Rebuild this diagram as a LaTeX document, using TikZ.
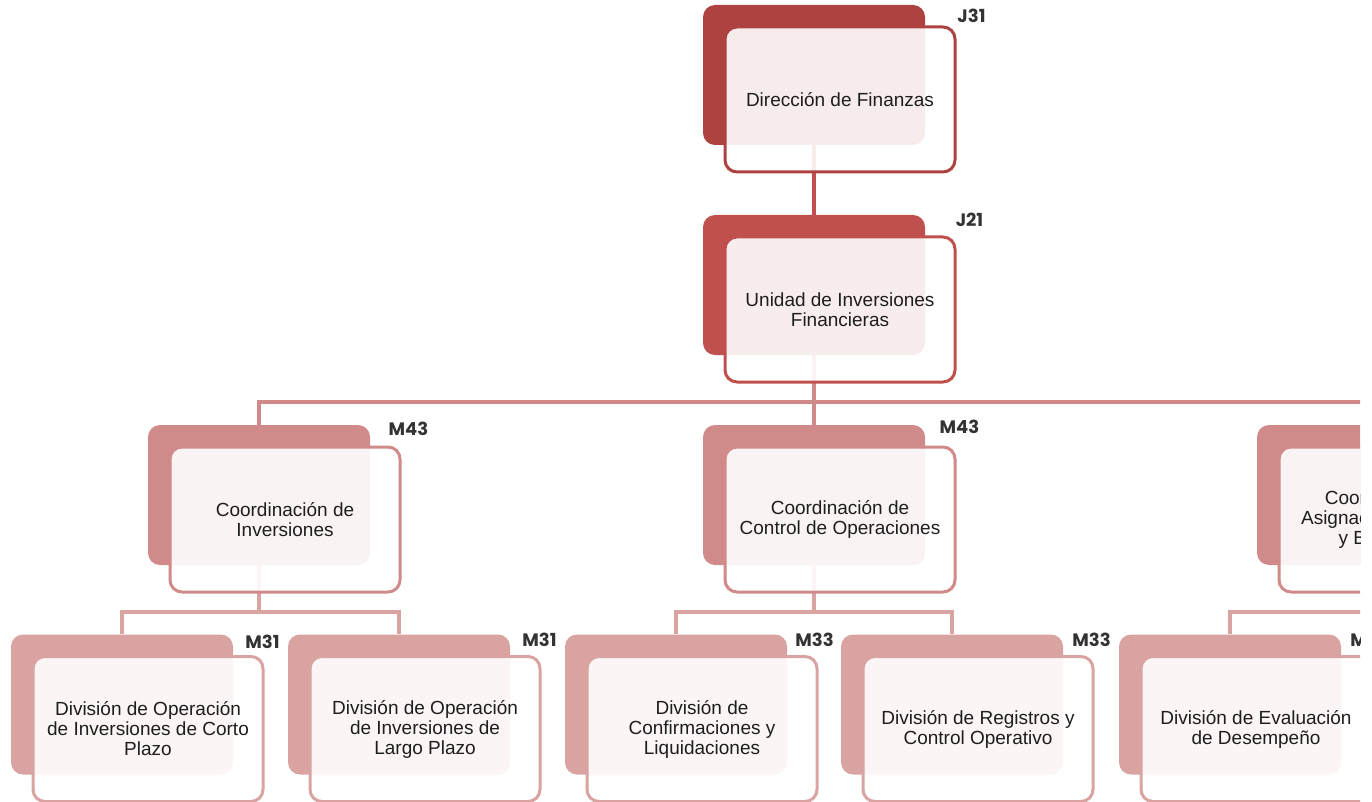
\documentclass[tikz,border=0pt]{standalone}
\usepackage{fontspec}
\setmainfont{Liberation Sans}
\newfontfamily\codefont{Poppins}
\usepackage{tikz}
\usetikzlibrary{positioning, calc, backgrounds}
\usepackage{xcolor}
\definecolor{finred}{RGB}{173,66,64}
\definecolor{unitred}{RGB}{192,80,77}
\definecolor{coordrose}{RGB}{208,138,137}
\definecolor{divrose}{RGB}{217,163,162}
\definecolor{codegray}{RGB}{51,51,51}
\definecolor{textdark}{RGB}{30,30,30}

\begin{document}
\begin{tikzpicture}[
    x=1pt, y=-1pt,
    back/.style={rectangle, rounded corners=12pt, minimum width=222pt, minimum height=140pt, inner sep=0pt},
    front/.style={rectangle, rounded corners=12pt, minimum width=230pt, minimum height=145pt, line width=3pt, fill=white, fill opacity=0.9, text opacity=1, draw opacity=1, align=center, font=\fontsize{19}{20}\selectfont, text=textdark},
    code/.style={font=\codefont\bfseries\fontsize{18}{18}\selectfont, text=codegray},
    link/.style={line width=4.5pt},
]
    \useasboundingbox (0,0) rectangle (1372,802);
    \clip (0,0) rectangle (1360,802);

    % Back plates
    \node[back, fill=finred] (jb) at (814,75) {};
    \node[back, fill=unitred] (ub) at (814,285) {};
    \node[back, fill=coordrose] (cab) at (259,495) {};
    \node[back, fill=coordrose] (cbb) at (814,495) {};
    \node[back, fill=coordrose] (ccb) at (1368,495) {};
    \node[back, fill=divrose] (dab) at (122,704.5) {};
    \node[back, fill=divrose] (dbb) at (399,704.5) {};
    \node[back, fill=divrose] (dcb) at (676,704.5) {};
    \node[back, fill=divrose] (ddb) at (952,704.5) {};
    \node[back, fill=divrose] (deb) at (1230,704.5) {};

    % Connectors (behind the plates)
    \coordinate (bar2) at (0,402);
    \coordinate (bar3) at (0,612);
    \coordinate (edge3) at (1400,612);
    \begin{scope}[on background layer]
        \clip (0,0) rectangle (1360,802);
        \draw[link, unitred] (jb) -- (ub);
        \draw[link, coordrose] (ub) -- (cbb);
        \draw[link, coordrose] (cab) |- (ub |- bar2) -| (ccb);
        \draw[link, divrose] (cab) -- (cab |- bar3);
        \draw[link, divrose] (dab) |- (cab |- bar3) -| (dbb);
        \draw[link, divrose] (cbb) -- (cbb |- bar3);
        \draw[link, divrose] (dcb) |- (cbb |- bar3) -| (ddb);
        \draw[link, divrose] (ccb) -- (ccb |- bar3);
        \draw[link, divrose] (deb) |- (edge3);
    \end{scope}

    % Front cards
    \node[front, draw=finred] (jf) at ($(jb)+(26,24.5)$) {Dirección de Finanzas};
    \node[front, draw=unitred] (uf) at ($(ub)+(26,24.5)$) {Unidad de Inversiones\\Financieras};
    \node[front, draw=coordrose] (caf) at ($(cab)+(26,24.5)$) {Coordinación de\\Inversiones};
    \node[front, draw=coordrose] (cbf) at ($(cbb)+(26,24.5)$) {Coordinación de\\Control de Operaciones};
    \node[front, draw=coordrose] (ccf) at ($(ccb)+(26,24.5)$) {Coordinación de\\Asignación de Activos\\y Benchmark};
    \node[front, draw=divrose] (daf) at ($(dab)+(26,24.5)$) {División de Operación\\de Inversiones de Corto\\Plazo};
    \node[front, draw=divrose] (dbf) at ($(dbb)+(26,24.5)$) {División de Operación\\de Inversiones de\\Largo Plazo};
    \node[front, draw=divrose] (dcf) at ($(dcb)+(26,24.5)$) {División de\\Confirmaciones y\\Liquidaciones};
    \node[front, draw=divrose] (ddf) at ($(ddb)+(26,24.5)$) {División de Registros y\\Control Operativo};
    \node[front, draw=divrose] (def) at ($(deb)+(26,24.5)$) {División de Evaluación\\de Desempeño};

    % Position codes
    \node[code] (jcode) at ($(jf.north east)+(15,-9.5)$) {J31};
    \node[code] (ucode) at ($(uf.north east)+(13,-16)$) {J21};
    \node[code] (cacode) at ($(caf.north east)+(7,-17)$) {M43};
    \node[code] (cbcode) at ($(cbf.north east)+(3,-19)$) {M43};
    \node[code] (dacode) at ($(daf.north east)+(-2,-13.5)$) {M31};
    \node[code] (dbcode) at ($(dbf.north east)+(-2,-15)$) {M31};
    \node[code] (dccode) at ($(dcf.north east)+(-4,-15)$) {M33};
    \node[code] (ddcode) at ($(ddf.north east)+(-3,-15)$) {M33};
    \node[code] (decode) at ($(def.north east)+(-3,-15)$) {M33};
\end{tikzpicture}
\end{document}
